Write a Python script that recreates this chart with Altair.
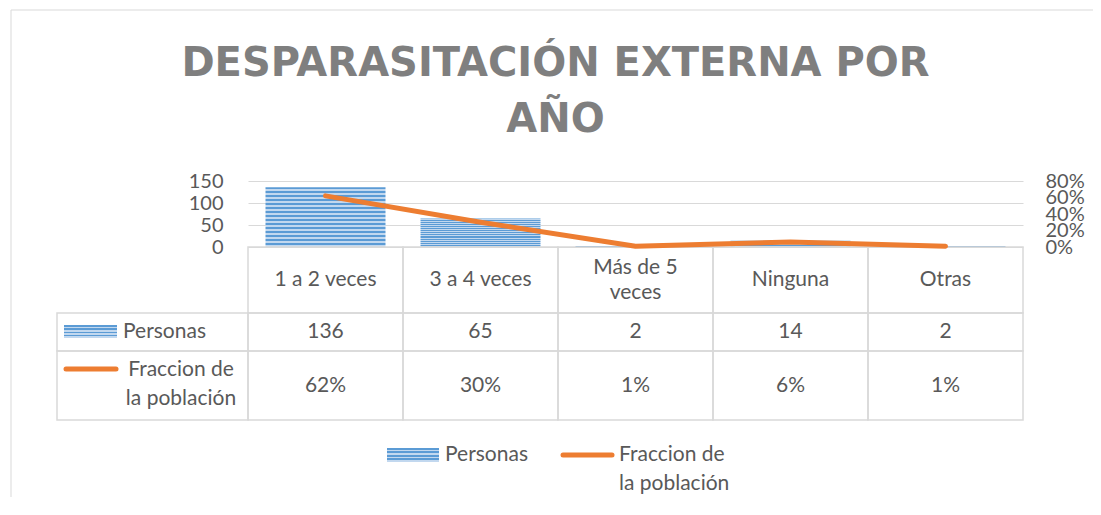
import altair as alt
import pandas as pd

# ---------------- data ----------------
categorias = ["1 a 2 veces", "3 a 4 veces", "Más de 5\nveces", "Ninguna", "Otras"]
personas = [136, 65, 2, 14, 2]
fraccion = [0.62, 0.30, 0.01, 0.06, 0.01]
series = ["Personas", "Fraccion de\nla población"]
titulo = ["DESPARASITACIÓN EXTERNA POR", "AÑO"]
ticks_personas = [0, 50, 100, 150]
ticks_fraccion = [0.0, 0.2, 0.4, 0.6, 0.8]

# ---------------- style / layout ----------------
W, H = 775, 66
NCAT = len(categorias)
COL = W / NCAT
PLOT_LEFT, PLOT_BOTTOM = 248, 247     # page position of the plot area
BLUE_D, BLUE_L = "#5b9bd5", "#c2d8ef"
ORANGE = "#ed7d31"
TXT = "#595959"
GRIDC = "#d9d9d9"
FONT = "Lato"
FS = 21
LH_CAT = 25
LH_LEG = 29
ROW_EDGES = [0, 66, 104, 173]          # table row boundaries (px below plot)


def cx(px):
    return (px - PLOT_LEFT) / COL


def ry(py):
    return py - PLOT_BOTTOM


def first_line(center, text, lh):
    """y of the first line so that a multi-line block is centred on `center`."""
    return center - (text.count("\n")) * lh / 2


def stripes(n):
    stops = []
    for i in range(n):
        a, b, c = i / n, (i + 0.5) / n, (i + 1) / n
        stops += [alt.GradientStop(offset=a, color=BLUE_D),
                  alt.GradientStop(offset=b, color=BLUE_D),
                  alt.GradientStop(offset=b, color=BLUE_L),
                  alt.GradientStop(offset=c, color=BLUE_L)]
    return alt.LinearGradient(gradient="linear", stops=stops, x1=0, x2=0, y1=0, y2=1)


df = pd.DataFrame({"categoria": categorias, "personas": personas, "fraccion": fraccion})

# table geometry built from the data arrays
cells = []
for r in range(3):
    for i in range(NCAT):
        cells.append(dict(x0=i, x1=i + 1, y0=ROW_EDGES[r], y1=ROW_EDGES[r + 1]))
    if r > 0:
        cells.append(dict(x0=cx(57), x1=0, y0=ROW_EDGES[r], y1=ROW_EDGES[r + 1]))
cells = pd.DataFrame(cells)

mids = [(ROW_EDGES[r] + ROW_EDGES[r + 1]) / 2 for r in range(3)]
texts = []
for i, c in enumerate(categorias):
    texts.append(dict(x=i + 0.5, y=first_line(mids[0], c, LH_CAT), t=c))
for i, p in enumerate(personas):
    texts.append(dict(x=i + 0.5, y=mids[1], t=f"{p}"))
for i, f in enumerate(fraccion):
    texts.append(dict(x=i + 0.5, y=mids[2], t=f"{f:.0%}"))
texts = pd.DataFrame(texts)

patches = pd.DataFrame([
    dict(x0=cx(64), x1=cx(117), y0=ry(325), y1=ry(338)),
    dict(x0=cx(387), x1=cx(439), y0=ry(448), y1=ry(462)),
])
lkeys = pd.DataFrame([
    dict(x0=cx(66), x1=cx(116), y=ry(369)),
    dict(x0=cx(563), x1=cx(612), y=ry(455)),
])
ltexts_left = pd.DataFrame([
    dict(x=cx(123), y=ry(332), t=series[0]),
    dict(x=cx(445), y=ry(455), t=series[0]),
    dict(x=cx(619), y=ry(455), t=series[1]),
])
ltexts_center = pd.DataFrame([dict(x=cx(181), y=ry(370), t=series[1])])
frame = pd.DataFrame([dict(x0=cx(11), x1=cx(1100), y0=ry(10), y1=ry(530))])

TX = alt.Scale(domain=[0, NCAT], nice=False, zero=False)
TY = alt.Scale(domain=[0, ROW_EDGES[-1]], range=[H, H + ROW_EDGES[-1]], nice=False, zero=False)


def rect_enc(ch):
    return ch.encode(
        x=alt.X("x0:Q", scale=TX, axis=None), x2="x1:Q",
        y=alt.Y("y0:Q", scale=TY, axis=None), y2="y1:Q")


def text_enc(ch):
    return ch.encode(
        x=alt.X("x:Q", scale=TX, axis=None),
        y=alt.Y("y:Q", scale=TY, axis=None),
        text="t:N")


frame_l = rect_enc(alt.Chart(frame).mark_rect(fill="transparent", stroke=GRIDC, strokeWidth=1))

bars = alt.Chart(df).mark_bar(fill=stripes(15)).encode(
    x=alt.X("categoria:N", sort=None, axis=None,
            scale=alt.Scale(paddingInner=0.2258, paddingOuter=0.1129)),
    y=alt.Y("personas:Q", scale=alt.Scale(domain=[0, 150], nice=False),
            axis=alt.Axis(values=ticks_personas, title=None, labelFont=FONT, labelFontSize=20,
                          labelColor=TXT, grid=True, gridColor=GRIDC, gridWidth=1,
                          domain=False, ticks=False, labelPadding=25,
                          labelOverlap=False, labelFlush=False)),
)

line = alt.Chart(df).mark_line(color=ORANGE, strokeWidth=5, strokeCap="round",
                               strokeJoin="round").encode(
    x=alt.X("categoria:N", sort=None, axis=None),
    y=alt.Y("fraccion:Q", scale=alt.Scale(domain=[0, 0.8], nice=False),
            axis=alt.Axis(orient="right", values=ticks_fraccion, format=".0%", title=None,
                          labelFont=FONT, labelFontSize=20, labelColor=TXT, grid=False,
                          domain=False, ticks=False, labelPadding=22,
                          labelOverlap=False, labelFlush=False)),
)

cells_l = rect_enc(alt.Chart(cells).mark_rect(fill="transparent", stroke=GRIDC, strokeWidth=1.5))
texts_l = text_enc(alt.Chart(texts).mark_text(font=FONT, fontSize=FS, color=TXT, lineBreak="\n",
                                              lineHeight=LH_CAT, align="center", baseline="middle"))
patch_l = rect_enc(alt.Chart(patches).mark_rect(fill=stripes(4)))
lkey_l = alt.Chart(lkeys).mark_rule(color=ORANGE, strokeWidth=5, strokeCap="round").encode(
    x=alt.X("x0:Q", scale=TX, axis=None), x2="x1:Q",
    y=alt.Y("y:Q", scale=TY, axis=None))
ltl = text_enc(alt.Chart(ltexts_left).mark_text(font=FONT, fontSize=FS, color=TXT, lineBreak="\n",
                                                lineHeight=LH_LEG, align="left", baseline="middle"))
ltc = text_enc(alt.Chart(ltexts_center).mark_text(font=FONT, fontSize=FS, color=TXT, lineBreak="\n",
                                                  lineHeight=LH_LEG, align="center", baseline="middle"))

chart = alt.layer(frame_l, bars, cells_l, line, texts_l, patch_l, lkey_l, ltl, ltc).resolve_scale(
    x="independent", y="independent"
).properties(
    width=W, height=H,
    autosize=alt.AutoSizeParams(type="none"),
    padding={"left": 240, "top": 173, "right": 70, "bottom": 250},
    title=alt.Title(titulo, font="DejaVu Sans", fontSize=40, fontWeight="bold",
                    color="#7f7f7f", anchor="middle", frame="group", dx=-80,
                    offset=-170, lineHeight=56, baseline="bottom"),
    background="white",
).configure_view(stroke="transparent")

chart.save("out.html", embed_options={"renderer": "svg", "actions": False})
